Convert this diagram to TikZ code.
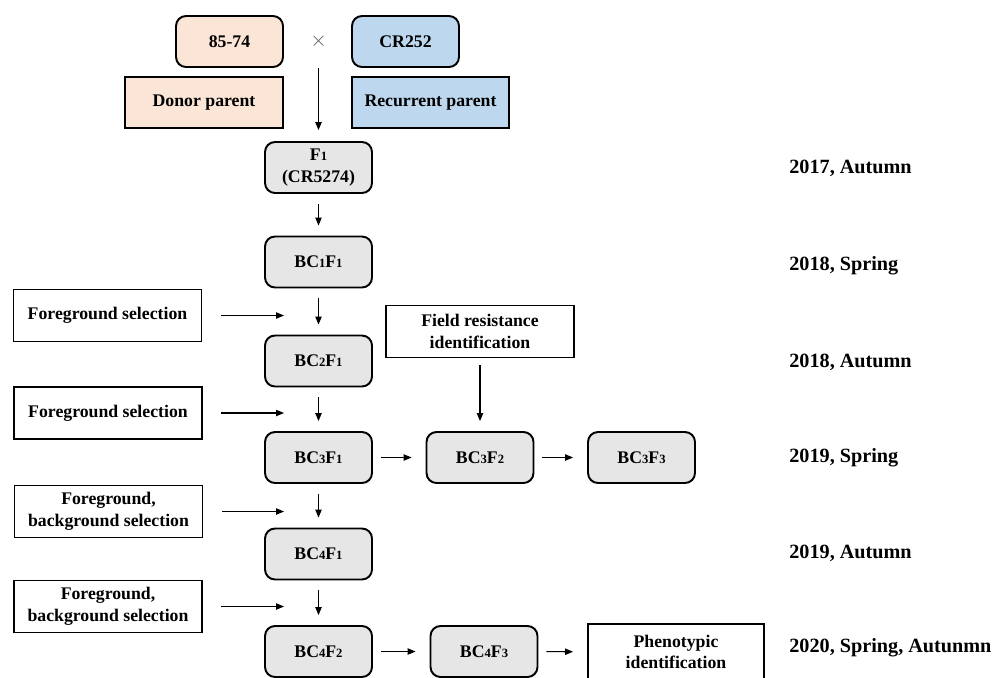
\documentclass[tikz,border=0pt]{standalone}
\usepackage{fontspec}
\setmainfont{Liberation Serif}
\usetikzlibrary{arrows.meta}
\definecolor{donorfill}{HTML}{FBE5D6}
\definecolor{recfill}{HTML}{BDD7EE}
\definecolor{genfill}{HTML}{E7E6E6}
\newcommand{\gn}[1]{{\fontsize{7.2}{7.2}\selectfont #1}}
\begin{document}
\begin{tikzpicture}[x=0.02cm,y=-0.02cm,
  every node/.style={font=\fontsize{10.1}{12.4}\selectfont\bfseries},
  gen/.style={draw,line width=1.1pt,rounded corners=0.2cm,fill=genfill,minimum width=2.14cm,minimum height=1.02cm,inner sep=0pt},
  parent/.style={gen,fill=#1},
  tag/.style={draw,line width=1.1pt,fill=#1,minimum width=3.15cm,minimum height=1.02cm,inner sep=0pt},
  sel/.style={draw,line width=1.1pt,align=center,minimum width=3.76cm,minimum height=1.04cm,inner sep=0pt},
  season/.style={anchor=west,inner sep=0pt,font=\fontsize{11.5}{14}\selectfont\bfseries},
  flow/.style={-{Triangle[length=4.5pt,width=3.6pt]},line width=0.6pt,shorten <=0.2cm,shorten >=0.2cm}]
\useasboundingbox (0,0) rectangle (997,677);
\node[parent=donorfill] (p8574) at (229.5,41.5) {85-74};
\node[inner sep=0pt,text=black!65,font=\fontsize{13}{13}\selectfont] (cross) at (318.5,41) {$\times$};
\node[parent=recfill] (cr252) at (405.5,41.5) {CR252};
\node[tag=donorfill] (donor) at (204,102.5) {Donor parent};
\node[tag=recfill] (recur) at (430.5,102.5) {Recurrent parent};
\node[gen,align=center] (f1) at (318.5,167.5) {F\gn{1}\\(CR5274)};
\node[gen] (bc11) at (318.5,262) {BC\gn{1}F\gn{1}};
\node[gen] (bc21) at (318.5,361) {BC\gn{2}F\gn{1}};
\node[gen] (bc31) at (318.5,457.5) {BC\gn{3}F\gn{1}};
\node[gen] (bc32) at (480,457.5) {BC\gn{3}F\gn{2}};
\node[gen] (bc33) at (641.5,457.5) {BC\gn{3}F\gn{3}};
\node[gen] (bc41) at (318.5,554) {BC\gn{4}F\gn{1}};
\node[gen] (bc42) at (318.5,651.5) {BC\gn{4}F\gn{2}};
\node[gen] (bc43) at (484,651.5) {BC\gn{4}F\gn{3}};
\node[sel] (field) at (480,331.5) {Field resistance\\identification};
\node[sel,minimum width=3.52cm,minimum height=1.12cm] (pheno) at (676,652) {Phenotypic\\identification};
\node[sel] (fs1) at (107.5,315.5) {Foreground selection};
\node[sel] (fs2) at (108,413) {Foreground selection};
\node[sel] (fbs1) at (108.5,511.5) {Foreground,\\background selection};
\node[sel] (fbs2) at (108,606.5) {Foreground,\\background selection};
\coordinate (s1) at (284,315.5);
\coordinate (s2) at (284,413);
\coordinate (s3) at (284,511.5);
\coordinate (s4) at (284,606.5);
\node[season] (y17) at (789,168) {2017, Autumn};
\node[season] (y18s) at (789,266) {2018, Spring};
\node[season] (y18a) at (789,362) {2018, Autumn};
\node[season] (y19s) at (789,458) {2019, Spring};
\node[season] (y19a) at (789,553) {2019, Autumn};
\node[season] (y20) at (789,648) {2020, Spring, Autunmn};
\path[flow]
(cross) edge[shorten <=0.4cm,shorten >=0.22cm] (f1)
(f1) edge (bc11)
(bc11) edge (bc21)
(bc21) edge (bc31)
(bc31) edge (bc41)
(bc41) edge (bc42)
(field) edge[shorten <=0.14cm] (bc32)
;
\path[flow,shorten <=0.16cm,shorten >=0.28cm]
(bc31) edge (bc32)
(bc32) edge (bc33)
(bc42) edge (bc43)
(bc43) edge (pheno)
;
\path[flow,shorten <=0.37cm,shorten >=0pt]
(fs1) edge (s1)
(fs2) edge (s2)
(fbs1) edge (s3)
(fbs2) edge (s4)
;
\end{tikzpicture}
\end{document}
